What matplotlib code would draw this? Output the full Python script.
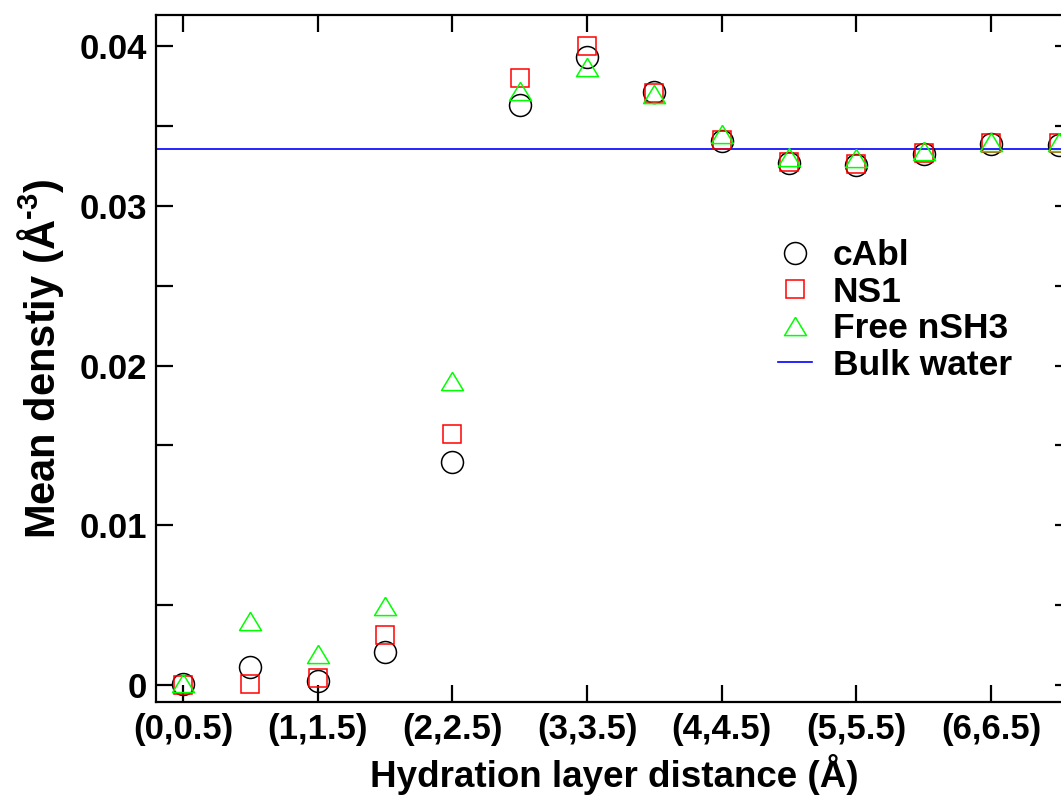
import matplotlib
matplotlib.use("Agg")
import matplotlib.pyplot as plt
from matplotlib.ticker import MultipleLocator, FixedLocator, FuncFormatter

plt.rcParams['font.family'] = ['Liberation Sans', 'DejaVu Sans']
plt.rcParams['font.weight'] = 'bold'
plt.rcParams['mathtext.fontset'] = 'custom'
plt.rcParams['mathtext.rm'] = 'Liberation Sans:bold'
plt.rcParams['mathtext.bf'] = 'Liberation Sans:bold'
plt.rcParams['mathtext.it'] = 'Liberation Sans:bold'

categories = ["(0,0.5)", "(0.5,1)", "(1,1.5)", "(1.5,2)", "(2,2.5)", "(2.5,3)", "(3,3.5)",
              "(3.5,4)", "(4,4.5)", "(4.5,5)", "(5,5.5)", "(5.5,6)", "(6,6.5)", "(6.5,7)"]
cabl = [0.00004, 0.0011, 0.00027, 0.0021, 0.01398, 0.03631, 0.03933, 0.03715,
        0.03408, 0.03267, 0.03256, 0.03325, 0.03388, 0.03381]
ns1 = [0.0, 0.00004, 0.00042, 0.00313, 0.01573, 0.03798, 0.0400, 0.03708,
       0.0341, 0.03277, 0.0326, 0.03333, 0.03392, 0.0339]
free_nsh3 = [0.00014, 0.00404, 0.00196, 0.00498, 0.01905, 0.03721, 0.03869, 0.03702,
             0.0345, 0.03308, 0.03296, 0.0334, 0.03398, 0.0340]
bulk_water = 0.03356

W, H = 1061, 797
fig = plt.figure(figsize=(W / 100, H / 100), dpi=100)
ax = fig.add_axes([156 / W, (H - 702) / H, (1072 - 156) / W, (702 - 15) / H])

x = list(range(len(categories)))
tri = [(0, 0.83), (-1, -0.83), (1, -0.83), (0, 0.83)]

ax.plot(x, cabl, linestyle='none', marker='o', markersize=15.8, markerfacecolor='none',
        markeredgecolor='black', markeredgewidth=1.1, label='cAbl', clip_on=False, zorder=3)
ax.plot(x, ns1, linestyle='none', marker='s', markersize=13.3, markerfacecolor='none',
        markeredgecolor='#ff0000', markeredgewidth=1.1, label='NS1', clip_on=False, zorder=4)
ax.plot(x, free_nsh3, linestyle='none', marker=tri, markersize=15.8, markerfacecolor='none',
        markeredgecolor='#00ff00', markeredgewidth=1.1, label='Free nSH3', clip_on=False, zorder=5)
ax.axhline(bulk_water, color='#0000ff', linewidth=1.2, label='Bulk water', zorder=2)

ax.set_xlim(-0.4, 13.2)
ax.set_ylim(-0.00106, 0.04194)

ax.xaxis.set_major_locator(FixedLocator(x[::2]))
ax.set_xticklabels(categories[::2])
ax.yaxis.set_major_locator(MultipleLocator(0.01))
ax.yaxis.set_minor_locator(MultipleLocator(0.005))


def yfmt(v, pos):
    if abs(v) < 1e-9:
        return '0'
    return f'{v:.2f}'


ax.yaxis.set_major_formatter(FuncFormatter(yfmt))

for s in ax.spines.values():
    s.set_linewidth(1.6)
ax.tick_params(axis='both', which='both', direction='in', length=12, width=1.6,
               top=True, right=True, labelsize=25)
ax.tick_params(axis='x', pad=8)
ax.tick_params(axis='y', pad=6.5)

ax.set_xlabel('Hydration layer distance (Å)', fontsize=26.5, fontweight='bold', labelpad=6)
ax.set_ylabel(r'Mean denstiy (Å$^{\text{-}3}$)', fontsize=30, fontweight='bold', labelpad=10)

leg = ax.legend(loc='upper left', bbox_to_anchor=(778 / W, (H - 239) / H),
                bbox_transform=fig.transFigure, frameon=False, fontsize=25.5,
                handlelength=0.95, handletextpad=0.6, labelspacing=0.1,
                borderpad=0, borderaxespad=0, numpoints=1)

fig.savefig('out.png', dpi=100)
